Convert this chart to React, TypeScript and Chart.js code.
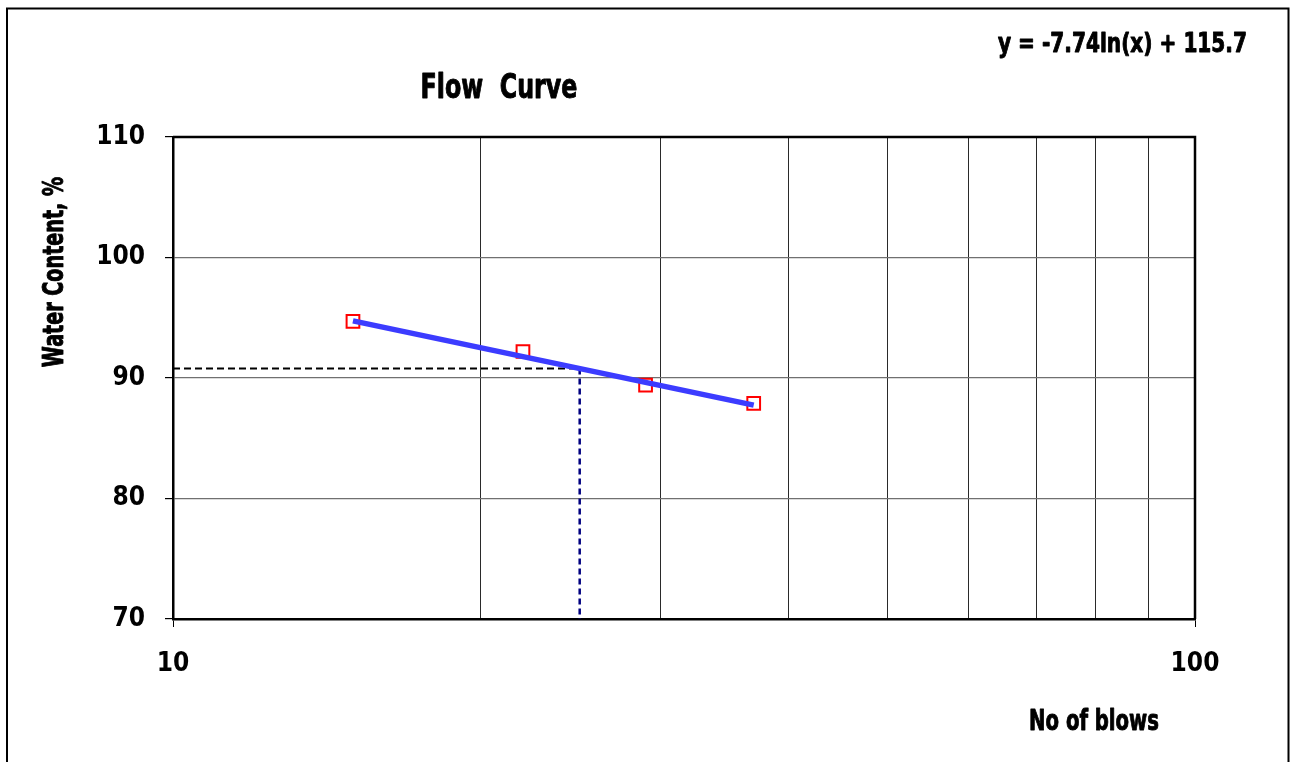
import { useEffect, useRef } from 'react';
import { Chart, registerables } from 'chart.js';

Chart.register(...registerables);

// Liquid limit test: number of blows vs. water content
const blows = [15, 22, 29, 37];
const waterContent = [94.7, 92.2, 89.4, 87.9];

// Fitted trend line y = a ln(x) + b, drawn over the tested range
const trendSlope = -7.74;
const trendIntercept = 115.7;
const trendBlows = [15, 37];

const standardBlows = 25;

const yTicks = [70, 80, 90, 100, 110];
const xGridValues = [10, 20, 30, 40, 50, 60, 70, 80, 90, 100];
const xTickLabels = [10, 100];

const titleText = 'Flow  Curve';
const equationText = 'y = -7.74ln(x) + 115.7';
const xAxisTitle = 'No of blows';
const yAxisTitle = 'Water Content, %';

const FONT = '"Liberation Sans Narrow", "Arial Narrow", "DejaVu Sans Condensed", sans-serif';

const W = 1293;
const H = 762;

const fit = (x: number) => trendSlope * Math.log(x) + trendIntercept;

// draws heavy text squeezed horizontally to imitate a narrow face
function narrowText(
  ctx: CanvasRenderingContext2D,
  text: string,
  x: number,
  y: number,
  size: number,
  squeeze: number,
  align: CanvasTextAlign,
  rotate = 0,
) {
  ctx.save();
  ctx.translate(x, y);
  if (rotate) ctx.rotate(rotate);
  ctx.scale(squeeze, 1);
  ctx.font = `bold ${size}px ${FONT}`;
  ctx.textAlign = align;
  ctx.textBaseline = 'middle';
  ctx.fillStyle = '#000';
  ctx.strokeStyle = '#000';
  ctx.lineWidth = 0.9;
  ctx.lineJoin = 'round';
  ctx.fillText(text, 0, 0);
  ctx.strokeText(text, 0, 0);
  ctx.restore();
}

const annotations = {
  id: 'flowCurveText',
  beforeDraw(chart: any) {
    const ctx = chart.ctx;
    ctx.save();
    ctx.fillStyle = '#ffffff';
    ctx.fillRect(0, 0, chart.width, chart.height);
    ctx.restore();
  },
  afterDraw(chart: any) {
    const ctx = chart.ctx;
    const area = chart.chartArea;
    ctx.save();
    // outer frame
    ctx.strokeStyle = '#000';
    ctx.lineWidth = 2;
    ctx.beginPath();
    ctx.moveTo(7, H + 10);
    ctx.lineTo(7, 8.5);
    ctx.lineTo(1288.5, 8.5);
    ctx.lineTo(1288.5, H + 10);
    ctx.stroke();

    // plot area top/right edges
    ctx.lineWidth = 2.5;
    ctx.beginPath();
    ctx.moveTo(area.left, area.top);
    ctx.lineTo(area.right, area.top);
    ctx.lineTo(area.right, area.bottom);
    ctx.stroke();
    ctx.restore();

    narrowText(ctx, titleText, 499, 89, 33, 0.8, 'center');
    narrowText(ctx, equationText, 998, 45, 26, 0.86, 'left');
    narrowText(ctx, xAxisTitle, 1094, 723, 28, 0.78, 'center');
    narrowText(ctx, yAxisTitle, 56, 272, 28, 0.76, 'center', -Math.PI / 2);
  },
};

export default function App() {
  const canvasRef = useRef<HTMLCanvasElement | null>(null);

  useEffect(() => {
    const canvas = canvasRef.current;
    if (!canvas) return;
    const ll = fit(standardBlows);

    const chart = new Chart(canvas, {
      type: 'scatter',
      data: {
        datasets: [
          {
            label: 'trend',
            data: trendBlows.map((x) => ({ x, y: fit(x) })),
            showLine: true,
            borderColor: '#3c3cff',
            borderWidth: 5.5,
            pointRadius: 0,
            order: 0,
          },
          {
            label: 'tests',
            data: blows.map((x, i) => ({ x, y: waterContent[i] })),
            showLine: false,
            pointStyle: 'rect',
            pointRadius: 9,
            pointBorderColor: '#ff0000',
            pointBackgroundColor: 'rgba(255,255,255,0)',
            pointBorderWidth: 2,
            order: 1,
          },
          {
            label: 'll-horizontal',
            data: [
              { x: 10, y: ll },
              { x: standardBlows, y: ll },
            ],
            showLine: true,
            borderColor: '#000000',
            borderWidth: 2,
            borderDash: [7, 4],
            pointRadius: 0,
            order: 2,
          },
          {
            label: 'll-vertical',
            data: [
              { x: standardBlows, y: ll },
              { x: standardBlows, y: 70 },
            ],
            showLine: true,
            borderColor: '#000080',
            borderWidth: 2.5,
            borderDash: [6, 4],
            pointRadius: 0,
            order: 2,
          },
        ],
      },
      options: {
        responsive: false,
        animation: false,
        devicePixelRatio: 1,
        layout: { padding: { top: 137, right: 98, left: 0, bottom: 0 } },
        plugins: {
          legend: { display: false },
          tooltip: { enabled: false },
          title: { display: false },
        },
        scales: {
          x: {
            type: 'logarithmic',
            min: 10,
            max: 100,
            afterBuildTicks: (scale: any) => {
              scale.ticks = xGridValues.map((value) => ({ value, major: xTickLabels.includes(value) }));
            },
            afterFit: (scale: any) => {
              scale.height = H - 619;
            },
            border: { display: true, color: '#000', width: 2.5 },
            grid: {
              color: '#2a2a2a',
              lineWidth: 1,
              drawTicks: true,
              tickLength: 8,
              tickColor: (c: any) =>
                c.tick && xTickLabels.includes(c.tick.value) ? '#000' : 'rgba(0,0,0,0)',
            },
            ticks: {
              autoSkip: false,
              maxRotation: 0,
              padding: 22,
              color: '#000',
              font: { family: FONT, size: 26, weight: 'bold' },
              callback: (v: any) => (xTickLabels.includes(Number(v)) ? String(v) : ''),
            },
          },
          y: {
            min: 70,
            max: 110,
            afterFit: (scale: any) => {
              scale.width = 173;
            },
            afterBuildTicks: (scale: any) => {
              scale.ticks = yTicks.map((value) => ({ value }));
            },
            border: { display: true, color: '#000', width: 2.5 },
            grid: {
              color: '#707070',
              lineWidth: 1.2,
              drawTicks: true,
              tickLength: 8,
              tickColor: '#000',
            },
            ticks: {
              padding: 20,
              color: '#000',
              font: { family: FONT, size: 26, weight: 'bold' },
              callback: (v: any) => String(v),
            },
          },
        },
      },
      plugins: [annotations],
    });

    return () => chart.destroy();
  }, []);

  return (
    <div style={{ position: 'absolute', left: 0, top: 0, width: W, height: H, background: '#fff' }}>
      <canvas ref={canvasRef} width={W} height={H} style={{ display: 'block' }} />
    </div>
  );
}
